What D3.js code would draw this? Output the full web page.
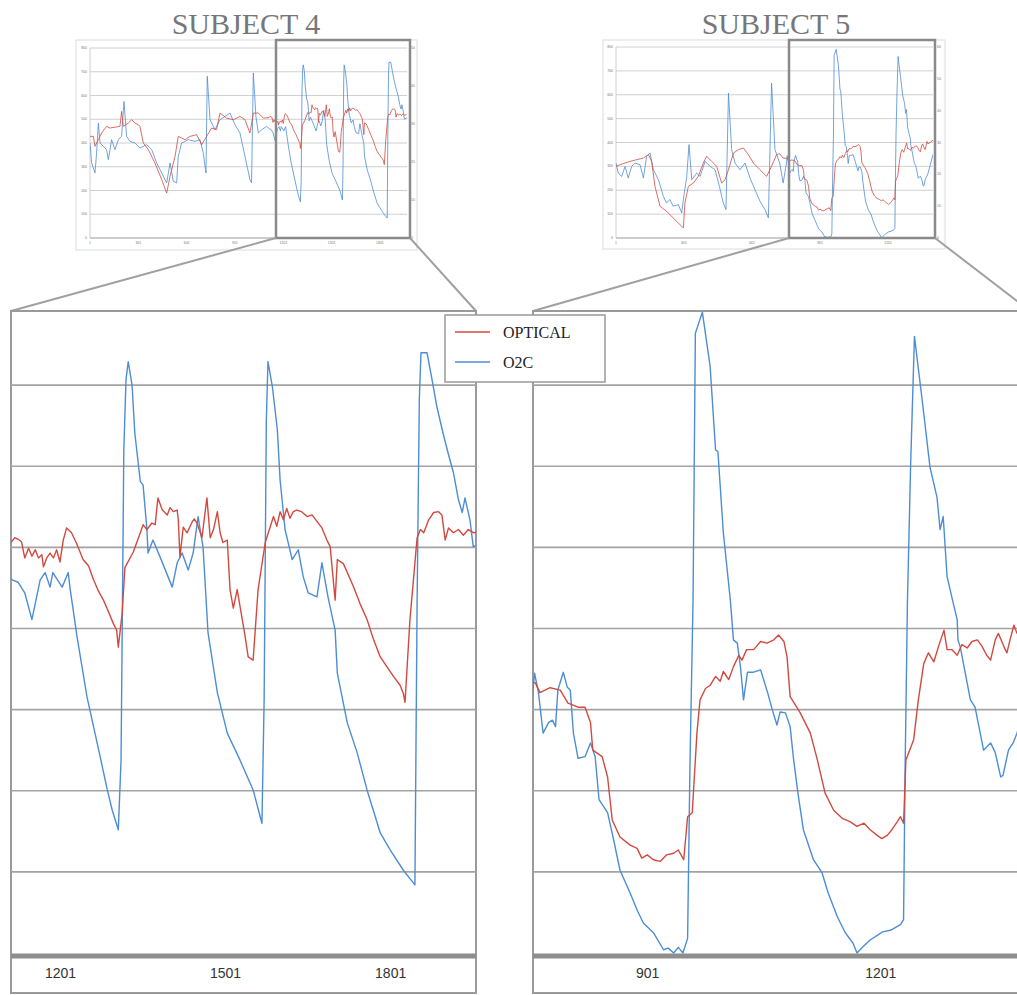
<!DOCTYPE html>
<html>
<head>
<meta charset="utf-8">
<script src="https://cdn.jsdelivr.net/npm/d3@7"></script>
<style>
  body { margin: 0; background: #fff; }
</style>
</head>
<body>
<svg id="drawing_region"></svg>
<script>
// values: [sample index, value]
const s4Optical = [[1,428],[22,428],[32,386],[53,414],[73,442],[104,470],[125,463],[187,470],[197,533],[208,470],[239,484],[260,498],[280,484],[301,477],[311,470],[332,400],[363,372],[404,316],[446,246],[477,189],[498,260],[529,344],[549,428],[591,414],[622,428],[663,435],[694,393],[725,428],[756,463],[787,456],[808,526],[849,505],[891,498],[932,512],[963,498],[994,442],[1015,526],[1046,526],[1077,505],
  [1113,507],[1119,512],[1125,510],[1131,507],[1137,487],[1144,499],[1150,489],[1156,497],[1162,487],[1168,491],[1171,476],[1177,487],[1183,493],[1189,487],[1195,497],[1201,482],[1207,509],[1213,524],[1222,518],[1231,505],[1243,485],[1253,477],[1262,460],[1271,446],[1280,435],[1289,421],[1298,406],[1304,398],[1307,377],[1314,419],[1319,475],[1334,494],[1347,518],[1352,528],[1359,522],[1368,530],[1374,528],[1379,561],[1387,546],[1396,540],[1401,549],[1407,544],[1414,546],[1416,534],[1419,488],[1425,525],[1432,518],[1441,531],[1445,535],[1450,530],[1459,512],[1463,534],[1468,561],[1474,512],[1480,522],[1487,544],[1492,518],[1497,506],[1505,509],[1510,448],[1516,425],[1523,448],[1537,392],[1543,365],[1552,361],[1561,448],[1574,506],[1589,538],[1595,526],[1601,544],[1607,534],[1613,548],[1619,536],[1625,544],[1631,546],[1640,544],[1650,538],[1659,540],[1668,532],[1677,524],[1686,509],[1692,501],[1701,435],[1705,485],[1716,480],[1734,452],[1746,431],[1759,411],[1771,386],[1783,365],[1795,353],[1807,341],[1819,330],[1825,320],[1828,309],[1837,411],[1850,512],[1856,522],[1862,518],[1871,534],[1880,543],[1889,544],[1895,540],[1901,509],[1907,524],[1916,518],[1925,522],[1934,515],[1943,522],[1953,518],[1967,519]];

const s4O2C = [[1,400],[11,316],[32,274],[42,358],[53,484],[63,400],[84,386],[104,372],[115,330],[135,414],[156,372],[177,414],[197,428],[212,575],[228,428],[249,407],[280,400],[311,379],[353,393],[384,372],[415,316],[446,274],[477,232],[498,316],[518,239],[539,232],[549,344],[570,400],[611,414],[653,407],[684,414],[704,358],[721,274],[729,681],[746,498],[777,456],[808,498],[839,512],[870,526],[901,477],[932,442],[963,344],[994,246],[1004,232],[1015,695],[1031,512],[1046,442],[1067,456],[1098,470],
  [1114,460],[1125,457],[1137,444],[1150,411],[1165,460],[1174,469],[1183,451],[1188,469],[1205,451],[1216,469],[1219,451],[1232,390],[1250,316],[1274,242],[1287,201],[1296,176],[1307,152],[1312,238],[1317,620],[1321,707],[1325,729],[1332,700],[1337,641],[1347,581],[1352,577],[1359,522],[1361,493],[1370,509],[1383,488],[1405,451],[1414,481],[1423,493],[1434,472],[1443,493],[1452,538],[1461,500],[1470,395],[1487,321],[1505,271],[1528,238],[1552,201],[1568,160],[1572,312],[1576,657],[1579,729],[1587,698],[1596,645],[1601,583],[1610,522],[1623,485],[1634,497],[1643,464],[1652,444],[1668,439],[1677,481],[1688,439],[1701,398],[1705,345],[1723,284],[1741,247],[1759,201],[1774,168],[1783,148],[1801,127],[1825,102],[1846,84],[1850,435],[1854,682],[1857,740],[1868,740],[1877,707],[1886,673],[1897,641],[1906,617],[1916,592],[1925,559],[1932,543],[1937,561],[1946,534],[1952,501],[1967,505]];

const s5Optical = [[1,300],[19,307],[41,314],[63,321],[92,328],[122,335],[144,349],[158,321],[173,216],[195,133],[224,112],[253,84],[283,56],[298,42],[305,147],[320,216],[342,230],[364,258],[386,314],[401,342],[423,321],[445,300],[467,230],[482,244],[497,286],[519,356],[541,370],[563,377],[585,349],[607,314],[636,286],[665,258],[687,300],[709,349],[723,353],[738,335],
  [757,333],[763,321],[776,327],[789,324],[799,308],[812,303],[821,303],[828,284],[831,250],[843,242],[850,217],[856,164],[866,143],[879,133],[888,129],[894,117],[901,121],[909,115],[918,113],[926,121],[935,123],[941,127],[948,115],[953,168],[959,173],[965,271],[969,312],[976,326],[982,330],[989,341],[995,335],[999,347],[1006,337],[1012,353],[1019,367],[1023,361],[1029,374],[1038,374],[1047,384],[1055,382],[1064,386],[1070,392],[1077,384],[1081,365],[1085,316],[1098,296],[1111,271],[1120,238],[1130,197],[1141,176],[1152,166],[1162,162],[1171,156],[1180,160],[1188,152],[1197,145],[1203,141],[1210,145],[1216,152],[1223,162],[1227,168],[1231,160],[1234,238],[1244,263],[1250,312],[1257,357],[1263,370],[1270,359],[1276,378],[1283,398],[1287,374],[1293,374],[1300,367],[1306,380],[1313,376],[1319,384],[1326,386],[1332,378],[1338,367],[1343,361],[1349,386],[1353,394],[1360,378],[1364,370],[1368,386],[1373,404],[1377,394],[1399,410]];

const s5O2C = [[1,314],[11,272],[26,258],[41,300],[55,251],[70,300],[85,314],[107,307],[122,251],[136,342],[151,356],[166,286],[188,244],[210,174],[224,147],[239,161],[253,133],[276,140],[291,105],[298,161],[313,258],[323,391],[335,244],[357,272],[372,258],[394,321],[416,300],[438,286],[457,216],[474,147],[486,119],[497,607],[511,370],[526,314],[548,286],[570,314],[592,251],[614,202],[636,154],[658,119],[673,84],[687,649],[702,370],[723,314],[738,230],[753,314],
  [756,345],[761,321],[767,271],[774,284],[779,287],[783,279],[786,324],[793,346],[798,328],[802,324],[806,271],[812,240],[821,242],[828,259],[834,242],[839,189],[850,173],[857,143],[866,102],[879,74],[888,53],[896,37],[909,25],[922,4],[928,6],[935,0],[941,7],[947,0],[953,18],[956,229],[960,435],[963,764],[972,790],[982,723],[989,620],[992,618],[999,518],[1008,435],[1012,386],[1017,382],[1021,353],[1025,312],[1030,346],[1037,346],[1047,349],[1056,321],[1062,300],[1068,281],[1072,297],[1079,296],[1085,279],[1089,242],[1095,197],[1102,152],[1115,115],[1126,99],[1134,74],[1146,44],[1156,25],[1166,12],[1171,0],[1178,7],[1188,16],[1204,26],[1214,28],[1227,35],[1231,41],[1233,229],[1236,435],[1240,599],[1245,760],[1256,673],[1265,599],[1274,562],[1278,522],[1282,538],[1287,464],[1294,435],[1300,411],[1301,386],[1304,377],[1317,312],[1323,303],[1334,250],[1343,259],[1349,247],[1356,217],[1359,219],[1366,250],[1372,259],[1377,271],[1399,350]];

const seriesNames = ['OPTICAL', 'O2C'];
const yTicks = [0, 100, 200, 300, 400, 500, 600, 700, 800];
const s4BigTicks = [1201, 1501, 1801];
const s5BigTicks = [901, 1201];
const s4ThumbTicks = [1, 301, 601, 901, 1201, 1501, 1801];
const s5ThumbTicks = [1, 301, 601, 901, 1201];
const s4RightTicks = [0, 10, 20, 30, 40, 50];
const s5RightTicks = [0, 10, 20, 30, 40, 50, 60];

const colors = { OPTICAL: '#d24a3f', O2C: '#4c8dd6' };

const svg = d3.select('#drawing_region')
    .attr('width', 1017)
    .attr('height', 995);

const panels = [
    {
        id: 's4', title: 'SUBJECT 4', titleX: 246,
        series: { OPTICAL: s4Optical, O2C: s4O2C },
        thumb: { box: [76, 40, 417, 250], plot: [90, 48, 407, 238], xDomain: [1, 1969], xTicks: s4ThumbTicks, rTicks: s4RightTicks },
        zoom: [276, 40, 410, 238],
        big: { x0: 11, x1: 476, boxRight: 476, xDomain: [1112, 1957], xTicks: s4BigTicks }
    },
    {
        id: 's5', title: 'SUBJECT 5', titleX: 776,
        series: { OPTICAL: s5Optical, O2C: s5O2C },
        thumb: { box: [603, 40, 945, 249], plot: [616, 47, 933, 238], xDomain: [1, 1399], xTicks: s5ThumbTicks, rTicks: s5RightTicks },
        zoom: [789, 40, 935, 238],
        big: { x0: 533, x1: 1017, boxRight: 1030, xDomain: [754, 1377], xTicks: s5BigTicks }
    }
];

const defs = svg.append('defs');

panels.forEach(p => {
    drawThumb(p);
    drawConnectors(p);
    drawBig(p);
    svg.append('text')
        .text(p.title)
        .attr('x', p.titleX)
        .attr('y', 34)
        .attr('text-anchor', 'middle')
        .attr('font-family', 'Liberation Serif, serif')
        .attr('font-size', '30px')
        .attr('fill', '#777');
});
drawLegend();

function drawThumb(p) {
    const t = p.thumb;
    const g = svg.append('g');
    g.append('rect')
        .attr('x', t.box[0]).attr('y', t.box[1])
        .attr('width', t.box[2] - t.box[0]).attr('height', t.box[3] - t.box[1])
        .attr('fill', '#fff').attr('stroke', '#dcdcdc');

    const x = d3.scaleLinear().domain(t.xDomain).range([t.plot[0], t.plot[2]]);
    const y = d3.scaleLinear().domain([0, 800]).range([t.plot[3], t.plot[1]]);
    const yr = d3.scaleLinear().domain([0, d3.max(t.rTicks)]).range([t.plot[3], t.plot[1]]);

    g.selectAll('.grid').data(yTicks).join('line')
        .attr('x1', t.plot[0]).attr('x2', t.plot[2])
        .attr('y1', d => y(d)).attr('y2', d => y(d))
        .attr('stroke', d => d === 0 ? '#999' : '#c4c4c4')
        .attr('stroke-width', d => d === 0 ? 1.2 : 0.8);
    g.append('line')
        .attr('x1', t.plot[0]).attr('x2', t.plot[0])
        .attr('y1', t.plot[1]).attr('y2', t.plot[3])
        .attr('stroke', '#c4c4c4').attr('stroke-width', 0.8);

    const tiny = sel => sel.attr('font-family', 'Liberation Sans, sans-serif')
        .attr('font-size', '3.5px').attr('fill', '#777');
    g.selectAll('.yl').data(yTicks).join('text')
        .text(d => d).attr('x', t.plot[0] - 3).attr('y', d => y(d) + 1)
        .attr('text-anchor', 'end').call(tiny);
    g.selectAll('.yr').data(t.rTicks).join('text')
        .text(d => d).attr('x', t.plot[2] + 4).attr('y', d => yr(d) + 1)
        .call(tiny);
    g.selectAll('.xl').data(t.xTicks).join('text')
        .text(d => d).attr('x', d => x(d)).attr('y', t.plot[3] + 6)
        .attr('text-anchor', 'middle').call(tiny);

    defs.append('clipPath').attr('id', 'thumbclip-' + p.id)
        .append('rect')
        .attr('x', t.plot[0]).attr('y', t.plot[1] - 2)
        .attr('width', t.plot[2] - t.plot[0]).attr('height', t.plot[3] - t.plot[1] + 2);

    const line = d3.line().x(d => x(d[0])).y(d => y(d[1]));
    const lg = g.append('g').attr('clip-path', `url(#thumbclip-${p.id})`);
    ['O2C', 'OPTICAL'].forEach(name => {
        lg.append('path')
            .datum(p.series[name])
            .attr('d', line)
            .attr('fill', 'none')
            .attr('stroke', colors[name])
            .attr('stroke-width', 0.8)
            .attr('stroke-linejoin', 'round');
    });

    // highlighted window
    const z = p.zoom;
    g.append('rect')
        .attr('x', z[0]).attr('y', z[1])
        .attr('width', z[2] - z[0]).attr('height', z[3] - z[1])
        .attr('fill', 'none').attr('stroke', '#8a8a8a').attr('stroke-width', 2.5);
}

function drawConnectors(p) {
    const z = p.zoom, b = p.big;
    const pts = [[[z[0], z[3]], [b.x0, 311]], [[z[2], z[3]], [b.boxRight, 311]]];
    svg.selectAll('.conn-' + p.id).data(pts).join('line')
        .attr('x1', d => d[0][0]).attr('y1', d => d[0][1])
        .attr('x2', d => d[1][0]).attr('y2', d => d[1][1])
        .attr('stroke', '#a0a0a0').attr('stroke-width', 2);
}

function drawBig(p) {
    const b = p.big;
    const g = svg.append('g');
    const x = d3.scaleLinear().domain(b.xDomain).range([b.x0, b.x1]);
    const y = d3.scaleLinear().domain([0, 800]).range([953, 304]);

    g.append('rect')
        .attr('x', b.x0).attr('y', 311)
        .attr('width', b.boxRight - b.x0).attr('height', 993 - 311)
        .attr('fill', '#fff').attr('stroke', '#9a9a9a').attr('stroke-width', 2);

    g.selectAll('.grid').data(yTicks.filter(d => d > 0 && d < 800)).join('line')
        .attr('x1', b.x0).attr('x2', b.boxRight)
        .attr('y1', d => y(d)).attr('y2', d => y(d))
        .attr('stroke', '#a3a3a3').attr('stroke-width', 1.6);

    defs.append('clipPath').attr('id', 'bigclip-' + p.id)
        .append('rect')
        .attr('x', b.x0).attr('y', 311)
        .attr('width', b.boxRight - b.x0).attr('height', 955 - 311);

    const line = d3.line().x(d => x(d[0])).y(d => y(d[1]));
    const lg = g.append('g').attr('clip-path', `url(#bigclip-${p.id})`);
    ['O2C', 'OPTICAL'].forEach(name => {
        lg.append('path')
            .datum(p.series[name])
            .attr('d', line)
            .attr('fill', 'none')
            .attr('stroke', colors[name])
            .attr('stroke-width', 1.4)
            .attr('stroke-linejoin', 'round');
    });

    // thick category axis
    g.append('line')
        .attr('x1', b.x0).attr('x2', b.boxRight)
        .attr('y1', 956).attr('y2', 956)
        .attr('stroke', '#8e8e8e').attr('stroke-width', 5);

    const xaxis = d3.axisBottom(x).tickValues(b.xTicks).tickSize(0).tickPadding(0)
        .tickFormat(d3.format('d'));
    g.append('g')
        .attr('transform', 'translate(0, 968)')
        .call(xaxis)
        .call(a => a.select('.domain').remove())
        .selectAll('text')
        .attr('font-family', 'Liberation Sans, sans-serif')
        .attr('font-size', '14px')
        .attr('fill', '#333');
}

function drawLegend() {
    const lg = svg.append('g').attr('transform', 'translate(445, 315)');
    lg.append('rect')
        .attr('width', 160).attr('height', 67)
        .attr('fill', '#fff').attr('stroke', '#9a9a9a').attr('stroke-width', 1.5);
    seriesNames.forEach((name, i) => {
        lg.append('line')
            .attr('x1', 10).attr('x2', 45)
            .attr('y1', 17 + i * 30).attr('y2', 17 + i * 30)
            .attr('stroke', colors[name]).attr('stroke-width', 1.5);
        lg.append('text')
            .text(name)
            .attr('x', 58).attr('y', 23 + i * 30)
            .attr('font-family', 'Liberation Serif, serif')
            .attr('font-size', '16px')
            .attr('fill', '#222');
    });
}
</script>
</body>
</html>
